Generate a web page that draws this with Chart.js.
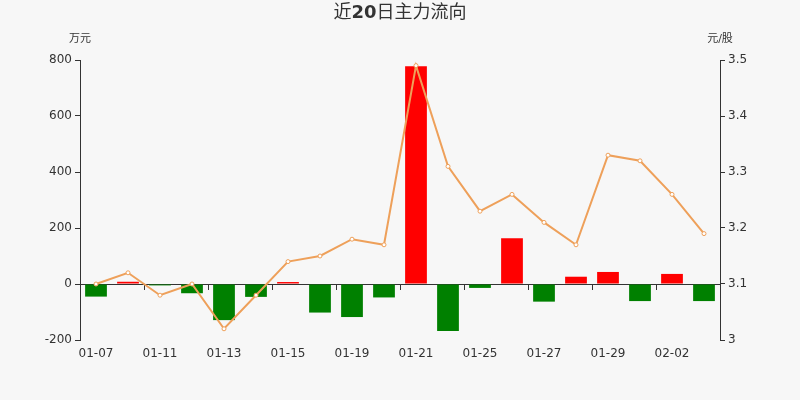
<!DOCTYPE html>
<html>
<head>
<meta charset="utf-8">
<script src="https://cdn.jsdelivr.net/npm/chart.js@4/dist/chart.umd.min.js"></script>
<style>
  html, body { margin: 0; padding: 0; background: #f7f7f7; }
  #wrap { width: 800px; height: 400px; position: relative; }
</style>
</head>
<body>
<div id="wrap"><canvas id="c"></canvas></div>
<script>
const titleParts = [['近', false], ['20', true], ['日主力流向', false]];
const leftUnit = '万元';
const rightUnit = '元/股';
const dates = ['01-07','01-08','01-11','01-12','01-13','01-14','01-15','01-18','01-19','01-20',
               '01-21','01-22','01-25','01-26','01-27','01-28','01-29','02-01','02-02','02-03'];
const netFlow = [-45, 8, -5, -33, -129, -46, 7, -102, -118, -48,
                 778, -168, -14, 163, -63, 26, 43, -61, 36, -61];
const price = [3.10, 3.12, 3.08, 3.10, 3.02, 3.08, 3.14, 3.15, 3.18, 3.17,
               3.49, 3.31, 3.23, 3.26, 3.21, 3.17, 3.33, 3.32, 3.26, 3.19];
const leftTicks = { min: -200, max: 800, step: 200 };
const rightTicks = { min: 3, max: 3.5, step: 0.1 };

const FONT = '"DejaVu Sans", "Noto Sans CJK SC", sans-serif';
const TXT = '#333';

const textPlugin = {
  id: 'texts',
  afterDraw(chart) {
    const ctx = chart.ctx;
    const ca = chart.chartArea;
    ctx.save();
    ctx.fillStyle = TXT;
    ctx.textBaseline = 'middle';
    const fontOf = (b) => (b ? 'bold ' : '') + '18px ' + FONT;
    let total = 0;
    titleParts.forEach(([t, b]) => { ctx.font = fontOf(b); total += ctx.measureText(t).width; });
    let x = chart.width / 2 - total / 2;
    ctx.textAlign = 'left';
    titleParts.forEach(([t, b]) => { ctx.font = fontOf(b); ctx.fillText(t, x, 13); x += ctx.measureText(t).width; });
    ctx.textAlign = 'center';
    ctx.font = '11px ' + FONT;
    ctx.fillText(leftUnit, ca.left, 39);
    ctx.fillText(rightUnit, ca.right, 39);
    ctx.restore();
  }
};

new Chart(document.getElementById('c'), {
  data: {
    labels: dates,
    datasets: [
      {
        type: 'line',
        data: price,
        yAxisID: 'y1',
        xAxisID: 'x',
        order: 0,
        borderColor: '#eea05a',
        borderWidth: 2,
        pointRadius: 2,
        pointBackgroundColor: '#ffffff',
        pointBorderColor: '#eea05a',
        pointBorderWidth: 1,
        tension: 0
      },
      {
        type: 'bar',
        data: netFlow,
        yAxisID: 'y',
        xAxisID: 'x',
        order: 1,
        backgroundColor: netFlow.map(v => v >= 0 ? '#ff0000' : '#008000'),
        barPercentage: 0.68,
        categoryPercentage: 1
      }
    ]
  },
  options: {
    responsive: true,
    maintainAspectRatio: false,
    animation: false,
    devicePixelRatio: 1,
    layout: { padding: { top: 60, left: 0, right: 0, bottom: 0 } },
    plugins: { legend: { display: false }, tooltip: { enabled: false }, title: { display: false } },
    scales: {
      x: {
        type: 'category',
        axis: 'x',
        position: { y: 0 },
        offset: true,
        ticks: { display: false, autoSkip: false },
        grid: {
          offset: true,
          drawOnChartArea: false,
          drawTicks: true,
          tickLength: 5,
          tickColor: (c) => (c.index % 2 === 0) ? TXT : 'rgba(0,0,0,0)',
          color: 'rgba(0,0,0,0)'
        },
        border: { display: true, color: TXT, width: 1 }
      },
      x2: {
        type: 'category',
        axis: 'x',
        position: 'bottom',
        offset: true,
        grid: { display: false, drawTicks: false },
        border: { display: false },
        ticks: {
          autoSkip: false,
          maxRotation: 0,
          padding: 7,
          color: TXT,
          font: { family: FONT, size: 12 },
          callback: function (v, i) { return i % 2 === 0 ? this.getLabelForValue(v) : ''; }
        },
        afterFit: (s) => { s.height = 60; }
      },
      y: {
        type: 'linear',
        position: 'left',
        min: leftTicks.min,
        max: leftTicks.max,
        ticks: { stepSize: leftTicks.step, color: TXT, padding: 3, font: { family: FONT, size: 12 } },
        grid: {
          drawOnChartArea: true,
          tickLength: 5,
          tickColor: TXT,
          color: (c) => (c.tick && c.tick.value === 0) ? TXT : 'rgba(0,0,0,0)'
        },
        border: { display: true, color: TXT, width: 1 },
        afterFit: (s) => { s.width = 80; }
      },
      y1: {
        type: 'linear',
        position: 'right',
        min: rightTicks.min,
        max: rightTicks.max,
        ticks: {
          stepSize: rightTicks.step, color: TXT, padding: 3, font: { family: FONT, size: 12 },
          callback: (v) => String(+v.toFixed(2))
        },
        grid: { drawOnChartArea: false, tickLength: 5, tickColor: TXT },
        border: { display: true, color: TXT, width: 1 },
        afterFit: (s) => { s.width = 80; }
      }
    }
  },
  plugins: [textPlugin]
});
</script>
</body>
</html>
